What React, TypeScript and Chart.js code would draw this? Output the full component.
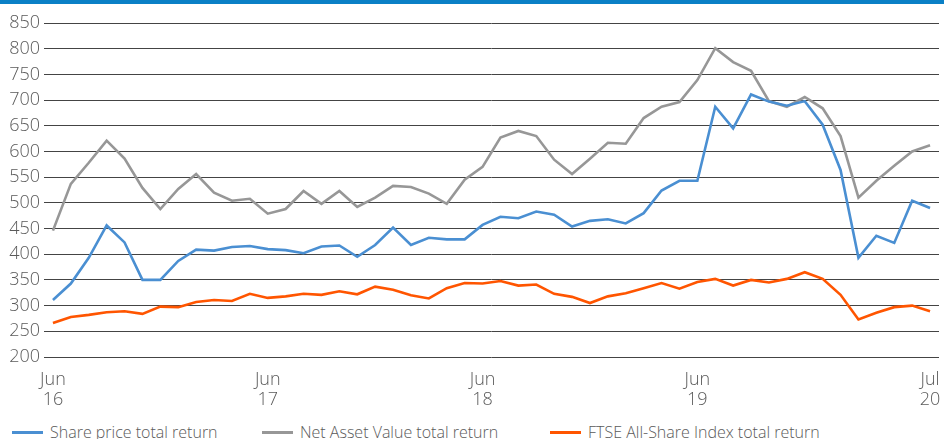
import React, { useEffect, useRef } from 'react';
import { Chart, registerables } from 'chart.js';

Chart.register(...registerables);

const months = [
  'Jun 16', 'Jul 16', 'Aug 16', 'Sep 16', 'Oct 16', 'Nov 16', 'Dec 16', 'Jan 17', 'Feb 17', 'Mar 17', 'Apr 17', 'May 17',
  'Jun 17', 'Jul 17', 'Aug 17', 'Sep 17', 'Oct 17', 'Nov 17', 'Dec 17', 'Jan 18', 'Feb 18', 'Mar 18', 'Apr 18', 'May 18',
  'Jun 18', 'Jul 18', 'Aug 18', 'Sep 18', 'Oct 18', 'Nov 18', 'Dec 18', 'Jan 19', 'Feb 19', 'Mar 19', 'Apr 19', 'May 19',
  'Jun 19', 'Jul 19', 'Aug 19', 'Sep 19', 'Oct 19', 'Nov 19', 'Dec 19', 'Jan 20', 'Feb 20', 'Mar 20', 'Apr 20', 'May 20',
  'Jun 20', 'Jul 20',
];

const tickIndices = [0, 12, 24, 36, 49];
const tickTexts = [['Jun', '16'], ['Jun', '17'], ['Jun', '18'], ['Jun', '19'], ['Jul', '20']];

const sharePrice = [
  311, 343, 393, 456, 423, 350, 350, 387, 409, 407,
  414, 416, 410, 408, 402, 415, 417, 395, 418, 452,
  418, 432, 429, 429, 457, 473, 470, 483, 477, 454,
  465, 468, 460, 480, 524, 543, 543, 687, 645, 711,
  697, 689, 698, 652, 564, 393, 436, 422, 504, 490,
];

const nav = [
  446, 537, 578, 621, 586, 529, 488, 527, 556, 520,
  504, 508, 479, 488, 523, 498, 523, 492, 510, 533,
  531, 518, 498, 545, 570, 627, 640, 630, 584, 556,
  586, 617, 615, 665, 687, 696, 739, 801, 774, 757,
  698, 687, 706, 684, 630, 510, 543, 572, 600, 612,
];

const ftse = [
  266, 278, 282, 287, 289, 284, 298, 297, 307, 311,
  309, 323, 315, 318, 323, 321, 328, 322, 337, 331,
  320, 314, 334, 344, 343, 348, 339, 341, 323, 317,
  305, 318, 324, 334, 344, 333, 346, 352, 339, 350,
  345, 352, 365, 352, 321, 273, 286, 297, 300, 289,
];

const seriesNames = ['Share price total return', 'Net Asset Value total return', 'FTSE All-Share Index total return'];
const seriesColors = ['#4a8fd2', '#979797', '#ff5500'];

const FONT = "'Open Sans', 'Noto Sans', sans-serif";
const TEXT_COLOR = '#5a5a5a';

export default function App() {
  const canvasRef = useRef<HTMLCanvasElement | null>(null);

  useEffect(() => {
    document.body.style.margin = '0';
    const ctx = canvasRef.current;
    if (!ctx) return;
    const values = [sharePrice, nav, ftse];
    const chart = new Chart(ctx, {
      type: 'line',
      data: {
        labels: months,
        datasets: values.map((v, i) => ({
          label: seriesNames[i],
          data: v,
          borderColor: seriesColors[i],
          backgroundColor: seriesColors[i],
          borderWidth: 2.6,
          pointRadius: 0,
          tension: 0,
          fill: false,
        })),
      },
      options: {
        animation: false,
        responsive: true,
        maintainAspectRatio: false,
        layout: { padding: { top: 23, right: 5, left: 0, bottom: 0 } },
        plugins: { legend: { display: false }, tooltip: { enabled: false } },
        scales: {
          x: {
            offset: true,
            grid: { display: false, drawTicks: false },
            border: { display: false },
            ticks: {
              autoSkip: false,
              maxRotation: 0,
              minRotation: 0,
              padding: 13,
              color: TEXT_COLOR,
              font: { family: FONT, size: 18, weight: '300', lineHeight: 1.1 },
              callback: (_v: any, index: number) => {
                const k = tickIndices.indexOf(index);
                return k >= 0 ? tickTexts[k] : '';
              },
            },
            afterFit: (scale: any) => {
              scale.height = 58;
              scale.paddingLeft = 0;
              scale.paddingRight = 0;
            },
          },
          y: {
            min: 200,
            max: 850,
            grid: { color: '#444444', lineWidth: 1, drawTicks: false },
            border: { display: false },
            ticks: {
              stepSize: 50,
              padding: 4,
              color: TEXT_COLOR,
              font: { family: FONT, size: 18, weight: '300' },
            },
            afterFit: (scale: any) => {
              scale.width = 44;
            },
          },
        },
      },
    });
    return () => chart.destroy();
  }, []);

  const legendX = [12, 262, 550];

  return (
    <div style={{ position: 'relative', width: 944, height: 439, overflow: 'hidden', background: '#fff' }}>
      <div style={{ position: 'absolute', left: 0, top: 0, width: 944, height: 4, background: '#0a80c6' }} />
      <div style={{ position: 'absolute', left: 0, top: 0, width: 944, height: 415 }}>
        <canvas ref={canvasRef} />
      </div>
      {seriesNames.map((name, i) => (
        <div
          key={name}
          style={{
            position: 'absolute',
            left: legendX[i],
            top: 421,
            display: 'flex',
            alignItems: 'center',
            fontFamily: FONT,
            fontWeight: 300,
            fontSize: 16,
            color: TEXT_COLOR,
            whiteSpace: 'nowrap',
            lineHeight: '22px',
          }}
        >
          <span style={{ display: 'inline-block', width: 31, height: 3, background: seriesColors[i], marginRight: 7 }} />
          <span>{name}</span>
        </div>
      ))}
    </div>
  );
}
